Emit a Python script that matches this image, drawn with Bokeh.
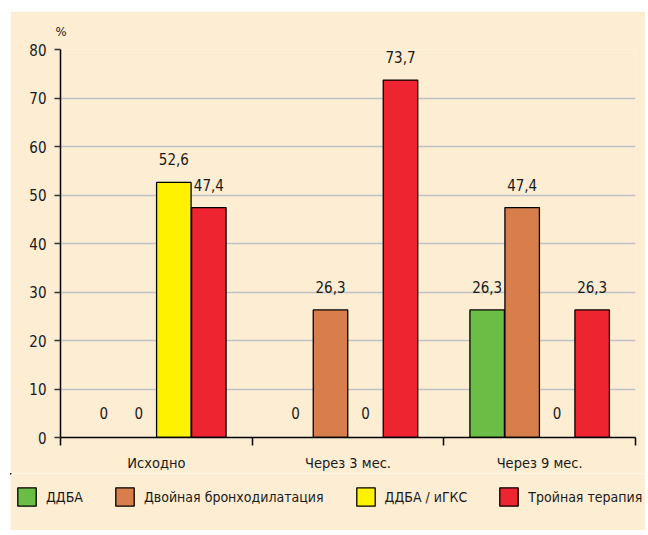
from bokeh.plotting import figure
from bokeh.models import (ColumnDataSource, FixedTicker, LabelSet, Legend, LegendItem)
from bokeh.core.properties import value
from bokeh.layouts import column
from bokeh.transform import dodge
from bokeh.embed import file_html
from bokeh.resources import INLINE

categories = ["Исходно", "Через 3 мес.", "Через 9 мес."]
series_names = ["ДДБА", "Двойная бронходилатация", "ДДБА / иГКС", "Тройная терапия"]
ddba = [0, 0, 26.3]
dual = [0, 26.3, 47.4]
ddba_igks = [52.6, 0, 0]
triple = [47.4, 73.7, 26.3]
colors = ["#6ABD45", "#D77E4C", "#FFF200", "#EE2531"]
y_ticks = [0, 10, 20, 30, 40, 50, 60, 70, 80]

FONT = "DejaVu Sans Condensed"
BG = "#FDEDD2"
TXT = "#1a1a1a"

p = figure(width=635, height=462, x_range=(0, 3), y_range=(0, 80),
           output_backend="svg", toolbar_location=None,
           background_fill_color=BG, border_fill_color=BG,
           min_border_left=50, min_border_top=38, min_border_right=10, min_border_bottom=10,
           title="%")
p.frame_align = False
p.outline_line_color = None
p.title.text_font = FONT
p.title.text_font_size = "13px"
p.title.text_font_style = "normal"
p.title.text_color = TXT
p.title.align = "left"
p.title.offset = -5
p.title.standoff = 21

centers = [i + 0.5 for i in range(len(categories))]
step = 0.1826
offsets = [-1.5 * step, -0.5 * step, 0.5 * step, 1.5 * step]
all_series = [ddba, dual, ddba_igks, triple]

sources = []
for vals, col, off in zip(all_series, colors, offsets):
    labels = [("%g" % v).replace(".", ",") for v in vals]
    yoff = [19 if v == 0 else 17 for v in vals]
    lalpha = [0 if v == 0 else 1 for v in vals]
    src = ColumnDataSource(dict(x=centers, top=vals, label=labels, yoff=yoff, la=lalpha))
    sources.append(src)
    p.vbar(x=dodge("x", off, range=p.x_range), top="top", width=0.18, source=src,
           fill_color=col, line_color="black", line_width=1.3, line_alpha="la")
    ls = LabelSet(x=dodge("x", off, range=p.x_range), y="top", text="label", source=src,
                  y_offset="yoff", text_align="center", text_baseline="bottom",
                  text_font=value(FONT), text_font_size=value("15px"), text_color=TXT)
    p.add_layout(ls)

# axes
p.yaxis.ticker = FixedTicker(ticks=y_ticks)
p.yaxis.axis_line_color = "black"
p.yaxis.axis_line_width = 1.5
p.yaxis.major_tick_out = 6
p.yaxis.major_tick_in = 0
p.yaxis.major_tick_line_color = "#333333"
p.yaxis.major_tick_line_width = 1.5
p.yaxis.minor_tick_line_color = None
p.yaxis.major_label_text_font = FONT
p.yaxis.major_label_text_font_size = "15px"
p.yaxis.major_label_text_color = TXT
p.yaxis.major_label_standoff = 8

p.xaxis.ticker = FixedTicker(ticks=centers, minor_ticks=[0, 1, 2, 3])
p.xaxis.major_label_overrides = {c: cat for c, cat in zip(centers, categories)}
p.xaxis.major_tick_line_color = None
p.xaxis.major_tick_out = 0
p.xaxis.major_tick_in = 0
p.xaxis.minor_tick_out = 8
p.xaxis.minor_tick_in = 0
p.xaxis.minor_tick_line_color = "black"
p.xaxis.minor_tick_line_width = 1.5
p.xaxis.axis_line_color = "black"
p.xaxis.axis_line_width = 1.5
p.xaxis.major_label_text_font = FONT
p.xaxis.major_label_text_font_size = "14.5px"
p.xaxis.major_label_text_color = TXT
p.xaxis.major_label_standoff = 9

p.xgrid.grid_line_color = None
p.ygrid.ticker = FixedTicker(ticks=y_ticks)
p.ygrid.grid_line_color = "#BFC2C6"
p.ygrid.grid_line_width = 1.5

# legend strip: its own figure so the legend may span the full width.
# Its renderers reuse the series data but lie outside this strip's ranges,
# so only their legend swatches are drawn.
lg = figure(width=635, height=57, x_range=(10, 11), y_range=(-200, -199),
            output_backend="svg", toolbar_location=None,
            x_axis_location=None, y_axis_location=None,
            background_fill_color=BG, border_fill_color=BG,
            min_border_left=0, min_border_right=0, min_border_top=0, min_border_bottom=0)
lg.frame_align = False
lg.outline_line_color = None
lg.grid.grid_line_color = None
items = []
for name, col, src in zip(series_names, colors, sources):
    r = lg.vbar(x="x", top="top", bottom=0, width=0.1, source=src,
                fill_color=col, line_color="black", line_width=1.3)
    items.append(LegendItem(label=name, renderers=[r]))
legend = Legend(items=items, orientation="horizontal", location=(5, 22),
                padding=0, margin=0, spacing=30, glyph_width=23, glyph_height=23,
                label_standoff=8, label_text_font=FONT, label_text_font_size="14px",
                label_text_color=TXT, border_line_color=None,
                background_fill_alpha=0)
lg.add_layout(legend, "center")

layout = column(p, lg, spacing=0, margin=(11, 0, 0, 10))
open("out.html", "w").write(file_html(layout, INLINE))
